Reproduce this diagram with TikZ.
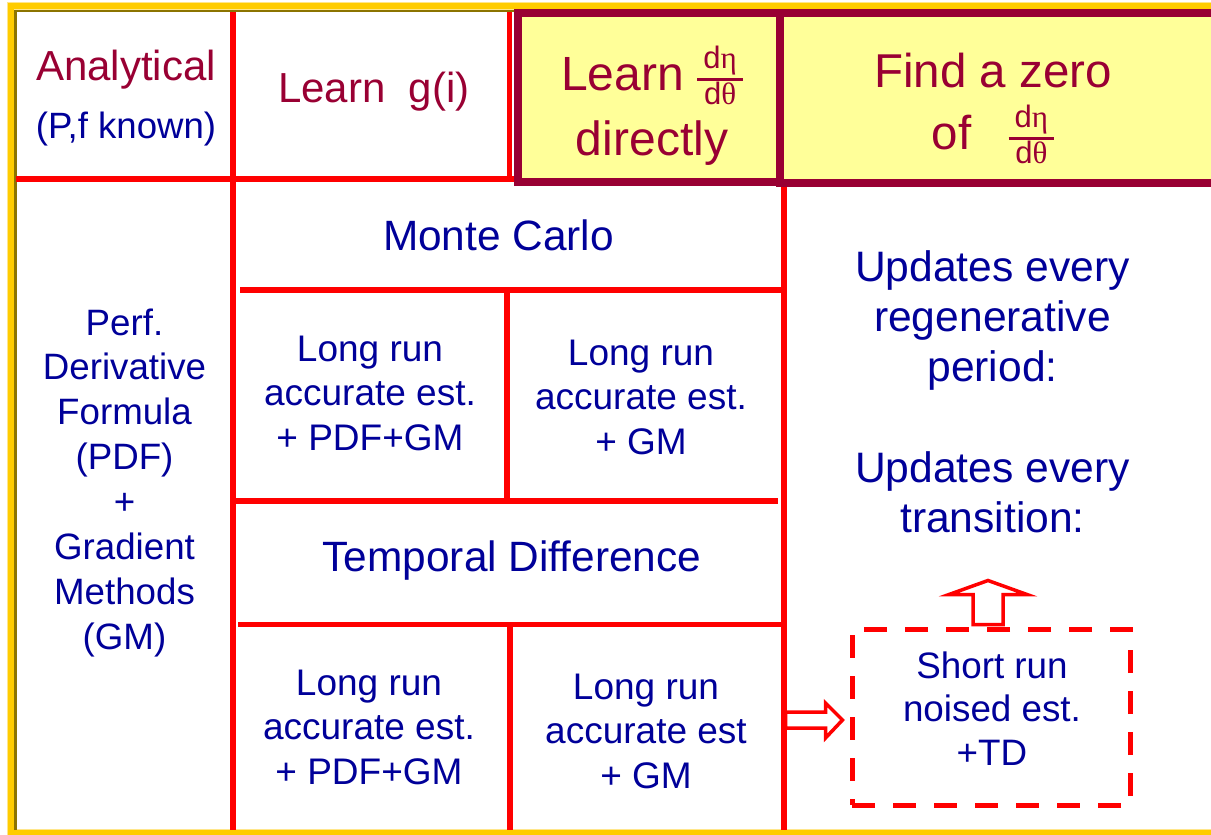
\documentclass[tikz,border=0pt]{standalone}
\usepackage{fontspec}
\setmainfont{Liberation Sans}
\newfontfamily\gk{Liberation Serif}
\usetikzlibrary{calc}

\definecolor{hdred}{HTML}{990033}
\definecolor{txtblue}{HTML}{000099}
\definecolor{gridred}{HTML}{FF0000}
\definecolor{hdfill}{HTML}{FFFF99}
\definecolor{frgold}{HTML}{FFCC00}
\definecolor{frlight}{HTML}{FFE68A}
\definecolor{frdark}{HTML}{8C7400}

% centred lines stacked on the baseline of the first one
\newcommand{\stackrows}[1]{\begin{tabular}[t]{@{}c@{}}#1\end{tabular}}
% d eta / d theta
\newcommand{\dedt}{\raisebox{22pt}{\fontsize{31}{33}\selectfont\setlength{\arrayrulewidth}{3pt}%
  \begin{tabular}[t]{@{\hspace{6pt}}c@{\hspace{6pt}}}d{\gk η}\\\hline d{\gk θ}\end{tabular}}}

\tikzset{
  redrule/.style={draw=gridred, line width=5.5pt},
  hdbox/.style={draw=hdred, fill=hdfill, line width=8pt},
  hdtext/.style={anchor=base, text=hdred, inner sep=0pt},
  bltext/.style={anchor=base, text=txtblue, inner sep=0pt},
  dashbox/.style={draw=gridred, line width=5pt, dash pattern=on 23pt off 18pt, inner sep=0pt},
  blockarrow/.style={draw=gridred, fill=white, line width=3.5pt, line join=miter},
}

\begin{document}
\begin{tikzpicture}[x=1pt, y=-1pt]
\useasboundingbox (0,0) rectangle (1211,835);

% outer frame
\draw[frlight, line width=9pt] (11,6) rectangle (1250,833);
\draw[frgold, line width=6pt] (11,6) rectangle (1250,833);
\draw[frdark, line width=2.5pt] (15.3,830) -- (15.3,10.8) -- (1250,10.8);

% table rules
\draw[redrule] (233,12) -- (233,830);
\draw[redrule] (16,179) -- (514,179);
\draw[redrule] (509.5,12) -- (509.5,179);
\draw[redrule] (784,186) -- (784,830);
\draw[redrule] (240,290) -- (784,290);
\draw[redrule] (507,290) -- (507,501);
\draw[redrule] (233,501) -- (778,501);
\draw[redrule] (238,624.5) -- (784,624.5);
\draw[redrule] (510,624.5) -- (510,830);

% highlighted header cells
\draw[hdbox] (780,12.5) rectangle (1250,182.5);
\draw[hdbox] (518,12.5) rectangle (780,182);

% header texts
\node[hdtext, font=\fontsize{42}{58}\selectfont] (ana) at (126,80)
  {\stackrows{Analytical\\{\fontsize{36.6}{44}\selectfont\color{txtblue}(P,f known)}}};
\node[hdtext, font=\fontsize{42}{50}\selectfont] (lg) at (374,102) {Learn~~g(i)};
\node[hdtext, font=\fontsize{48}{60}\selectfont] (ld) at (652,90) {\stackrows{Learn \dedt\\directly}};
\node[hdtext, font=\fontsize{47.5}{58}\selectfont] (fz) at (993,87) {\stackrows{Find a zero\\of\hspace{37pt}\dedt}};

% body texts
\node[bltext, font=\fontsize{36.7}{44.86}\selectfont] (pdf) at (124.5,335)
  {\stackrows{Perf.\\Derivative\\Formula\\(PDF)\\+\\Gradient\\Methods\\(GM)}};
\node[bltext, font=\fontsize{42.4}{50}\selectfont] (mc) at (498.5,250) {Monte Carlo};
\node[bltext, font=\fontsize{37}{44.5}\selectfont] (mcl) at (370,361) {\stackrows{Long run\\accurate est.\\+ PDF+GM}};
\node[bltext, font=\fontsize{37}{44.5}\selectfont] (mcr) at (641,365) {\stackrows{Long run\\accurate est.\\+ GM}};
\node[bltext, font=\fontsize{42.4}{50}\selectfont] (td) at (512,571) {Temporal Difference};
\node[bltext, font=\fontsize{37}{44.5}\selectfont] (tdl) at (369,695) {\stackrows{Long run\\accurate est.\\+ PDF+GM}};
\node[bltext, font=\fontsize{37}{44.5}\selectfont] (tdr) at (646,699) {\stackrows{Long run\\accurate est\\+ GM}};
\node[bltext, font=\fontsize{42.6}{50}\selectfont] (upr) at (992.5,281) {\stackrows{Updates every\\regenerative\\period:}};
\node[bltext, font=\fontsize{42.6}{50}\selectfont] (upt) at (992.5,482) {\stackrows{Updates every\\transition:}};

% short-run estimate box
\node[dashbox, minimum width=278pt, minimum height=176pt] (box) at (991,717) {};
\node[bltext, font=\fontsize{36.8}{43.5}\selectfont] (srt) at (992,678) {\stackrows{Short run\\noised est.\\+TD}};

% hollow block arrows
\draw[blockarrow] ($(box.west)+(-64,-5)$) -- ++(40,0) -- ++(0,-9) -- ++(17,17)
  -- ++(-17,18) -- ++(0,-10) -- ++(-40,0) -- cycle;
\draw[blockarrow] ($(box.north)+(-18,-2)$) -- ++(0,-30) -- ++(-24,0) -- ++(39,-14)
  -- ++(39,14) -- ++(-24,0) -- ++(0,30) -- cycle;
\end{tikzpicture}
\end{document}
